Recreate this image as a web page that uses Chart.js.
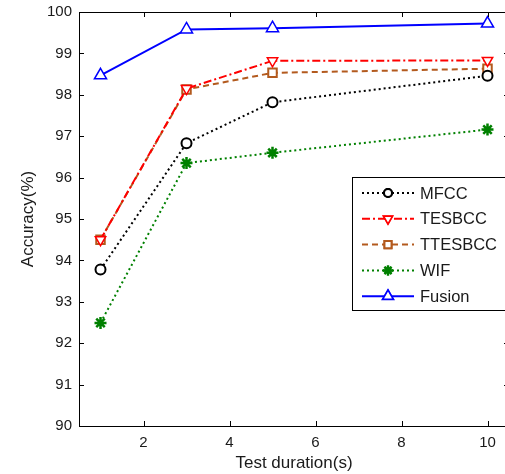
<!DOCTYPE html>
<html>
<head>
<meta charset="utf-8">
<script src="https://cdn.jsdelivr.net/npm/chart.js@4"></script>
<style>
  html, body { margin: 0; padding: 0; background: #fff; overflow: hidden; }
  #wrap { width: 518px; height: 474px; }
</style>
</head>
<body>
<div id="wrap"><canvas id="accChart" width="518" height="474"></canvas></div>
<script>
// Test durations (s)
const durations = [1, 3, 5, 10];

// Accuracy (%) per feature set
const mfcc    = [93.78, 96.83, 97.82, 98.46];
const tesbcc  = [94.50, 98.15, 98.82, 98.83];
const ttesbcc = [94.50, 98.13, 98.53, 98.63];
const wif     = [92.49, 96.35, 96.60, 97.16];
const fusion  = [98.47, 99.58, 99.61, 99.72];

const xTicks = [2, 4, 6, 8, 10];
const yTicks = [90, 91, 92, 93, 94, 95, 96, 97, 98, 99, 100];

const font = "'Liberation Sans', Arial, sans-serif";
const textColor = "#1a1a1a";

function pts(values){
    return durations.map((d, i) => ({ x: d, y: values[i] }));
}

// box + inward ticks, matlab style
const frame = {
    id: "frame",
    afterDraw(chart){
        const ctx = chart.ctx;
        const a = chart.chartArea;
        const xs = chart.scales.x, ys = chart.scales.y;
        ctx.save();
        ctx.strokeStyle = "#000";
        ctx.lineWidth = 1;
        ctx.strokeRect(Math.round(a.left) + 0.5, Math.round(a.top) + 0.5,
                       Math.round(a.right - a.left), Math.round(a.bottom - a.top));
        ctx.beginPath();
        xTicks.forEach(v => {
            const px = Math.round(xs.getPixelForValue(v)) + 0.5;
            ctx.moveTo(px, a.bottom); ctx.lineTo(px, a.bottom - 5);
            ctx.moveTo(px, a.top); ctx.lineTo(px, a.top + 5);
        });
        yTicks.forEach(v => {
            const py = Math.round(ys.getPixelForValue(v)) + 0.5;
            ctx.moveTo(a.left, py); ctx.lineTo(a.left + 5, py);
            ctx.moveTo(a.right, py); ctx.lineTo(a.right - 5, py);
        });
        ctx.stroke();
        ctx.restore();
    }
};

// legend box with line sample + marker in the middle
const boxLegend = {
    id: "boxLegend",
    afterDraw(chart){
        const ctx = chart.ctx;
        const left = 352, top = 177, w = 170, rowH = 25.8;
        const sets = chart.data.datasets;
        ctx.save();
        ctx.fillStyle = "#fff";
        ctx.fillRect(left, top, w, rowH * sets.length + 4);
        ctx.strokeStyle = "#000";
        ctx.lineWidth = 1;
        ctx.strokeRect(left + 0.5, top + 0.5, w, rowH * sets.length + 4);
        sets.forEach((ds, i) => {
            const y = top + 16 + i * rowH;
            ctx.strokeStyle = ds.borderColor;
            ctx.lineWidth = ds.borderWidth;
            ctx.setLineDash(ds.borderDash || []);
            ctx.beginPath();
            ctx.moveTo(362, y); ctx.lineTo(414, y);
            ctx.stroke();
            ctx.setLineDash([]);
            Chart.helpers.drawPoint(ctx, {
                pointStyle: ds.pointStyle,
                rotation: ds.pointRotation || 0,
                radius: ds.pointRadius - 1,
                borderWidth: ds.pointBorderWidth
            }, 388, y);
            ctx.fillStyle = ds.pointBackgroundColor;
            ctx.strokeStyle = ds.borderColor;
            ctx.lineWidth = ds.pointBorderWidth;
            ctx.fill();
            ctx.stroke();
            ctx.fillStyle = textColor;
            ctx.font = "16.5px " + font;
            ctx.textBaseline = "middle";
            ctx.fillText(ds.label, 420, y + 1);
        });
        ctx.restore();
    }
};

new Chart(document.getElementById("accChart"), {
    type: "line",
    data: {
        datasets: [
            {
                label: "MFCC", data: pts(mfcc),
                borderColor: "#000", borderWidth: 2, borderDash: [2, 3],
                pointStyle: "circle", pointRadius: 5, pointBorderWidth: 2,
                pointBackgroundColor: "#fff"
            },
            {
                label: "TESBCC", data: pts(tesbcc),
                borderColor: "#ff0000", borderWidth: 2, borderDash: [8, 3, 2, 3],
                pointStyle: "triangle", pointRotation: 180, pointRadius: 6, pointBorderWidth: 1.5,
                pointBackgroundColor: "#fff"
            },
            {
                label: "TTESBCC", data: pts(ttesbcc),
                borderColor: "#b35a1e", borderWidth: 2, borderDash: [6, 4],
                pointStyle: "rect", pointRadius: 6, pointBorderWidth: 2,
                pointBackgroundColor: "#fff"
            },
            {
                label: "WIF", data: pts(wif),
                borderColor: "#008000", borderWidth: 2, borderDash: [2, 3],
                pointStyle: "star", pointRadius: 6, pointBorderWidth: 2.5,
                pointBackgroundColor: "#008000"
            },
            {
                label: "Fusion", data: pts(fusion),
                borderColor: "#0000ff", borderWidth: 2,
                pointStyle: "triangle", pointRadius: 7, pointBorderWidth: 1.5,
                pointBackgroundColor: "#fff"
            }
        ]
    },
    options: {
        responsive: false,
        animation: false,
        layout: { padding: { top: 12, right: 9, left: 0, bottom: 0 } },
        elements: { line: { tension: 0 } },
        plugins: {
            legend: { display: false },
            tooltip: { enabled: false }
        },
        scales: {
            x: {
                type: "linear", min: 0.5, max: 10.5,
                afterBuildTicks: s => { s.ticks = xTicks.map(v => ({ value: v })); },
                afterFit: s => { s.height = 48; s.paddingLeft = 0; s.paddingRight = 0; },
                grid: { display: false, drawTicks: false },
                border: { display: false },
                ticks: { padding: 8, color: textColor, font: { family: font, size: 15 } },
                title: {
                    display: true, text: "Test duration(s)", color: textColor,
                    font: { family: font, size: 17 }, padding: { top: 0, bottom: 0 }
                }
            },
            y: {
                type: "linear", min: 90, max: 100,
                afterBuildTicks: s => { s.ticks = yTicks.map(v => ({ value: v })); },
                afterFit: s => { s.width = 79; s.paddingTop = 0; s.paddingBottom = 0; },
                grid: { display: false, drawTicks: false },
                border: { display: false },
                ticks: { padding: 7, color: textColor, font: { family: font, size: 15 } },
                title: {
                    display: true, text: "Accuracy(%)", color: textColor,
                    font: { family: font, size: 17 }, padding: { top: 18, bottom: 0 }
                }
            }
        }
    },
    plugins: [frame, boxLegend]
});
</script>
</body>
</html>
